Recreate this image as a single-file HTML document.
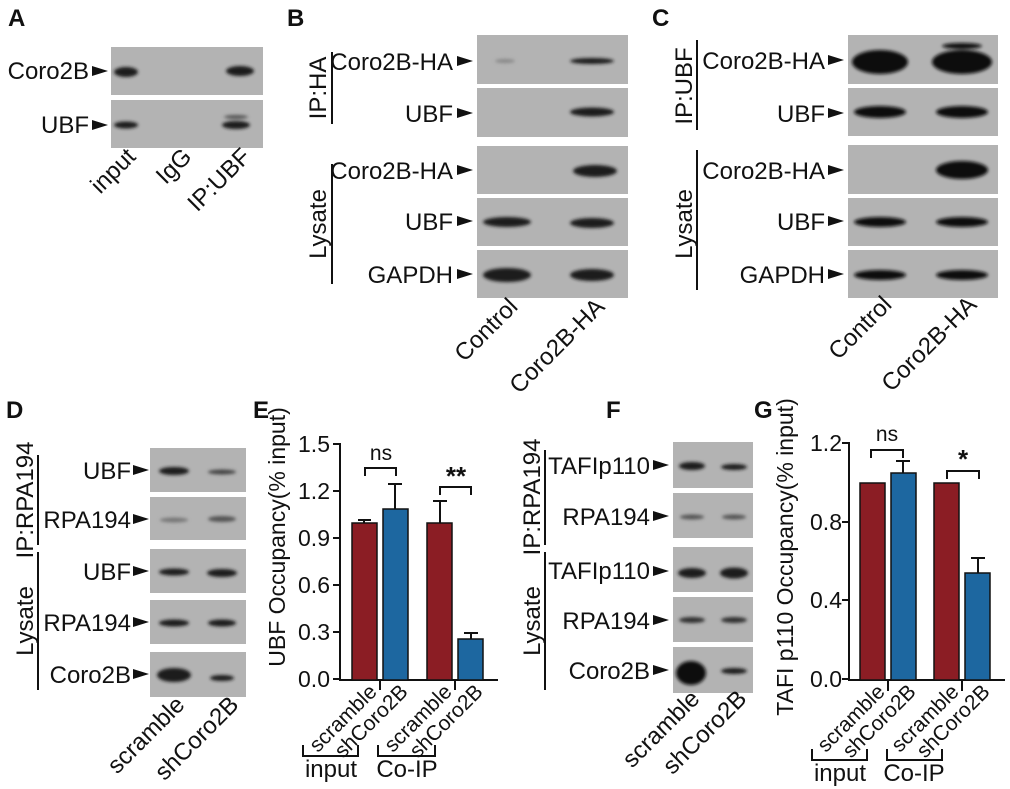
<!DOCTYPE html>
<html><head><meta charset="utf-8"><style>
html,body{margin:0;padding:0;background:#fff}
svg{display:block}
text{font-family:"Liberation Sans",Arial,sans-serif;fill:#111}
</style></head><body>
<svg width="1010" height="789" viewBox="0 0 1010 789" xmlns="http://www.w3.org/2000/svg">
<defs>
<filter id="b" x="-30%" y="-100%" width="160%" height="300%"><feGaussianBlur stdDeviation="1.6"/></filter>
<symbol id="ar" viewBox="0 0 16 10" overflow="visible"><polygon points="0,0 16,5 0,10" fill="#111"/></symbol>
</defs>
<g font-size="24">
<!-- Panel letters -->
<text x="8" y="26" font-size="24" font-weight="bold">A</text>
<text x="287" y="26" font-size="24" font-weight="bold">B</text>
<text x="652" y="26" font-size="24" font-weight="bold">C</text>
<text x="6" y="418" font-size="24" font-weight="bold">D</text>
<text x="253" y="418" font-size="24" font-weight="bold">E</text>
<text x="606" y="418" font-size="24" font-weight="bold">F</text>
<text x="754" y="418" font-size="24" font-weight="bold">G</text>

<!-- ===== A ===== -->
<rect x="111" y="47" width="152" height="48" fill="#b3b3b3"/>
<rect x="111" y="100" width="152" height="48" fill="#b3b3b3"/>
<g filter="url(#b)" fill="#1a1a1a">
<ellipse cx="126" cy="72" rx="12" ry="5"/>
<ellipse cx="240" cy="71" rx="14" ry="5"/>
<ellipse cx="126" cy="125" rx="12" ry="3.5"/>
<ellipse cx="236" cy="125" rx="14" ry="4"/>
<ellipse cx="236" cy="117" rx="12" ry="2" fill="#555"/>
</g>
<text x="89" y="79" text-anchor="end">Coro2B</text>
<use href="#ar" x="92" y="66" width="16" height="10"/>
<text x="89" y="133" text-anchor="end">UBF</text>
<use href="#ar" x="92" y="120" width="16" height="10"/>
<text transform="translate(137,158) rotate(-45)" text-anchor="end">input</text>
<text transform="translate(193,158) rotate(-45)" text-anchor="end">IgG</text>
<text transform="translate(252,158) rotate(-45)" text-anchor="end">IP:UBF</text>

<!-- ===== B ===== -->
<g fill="#b3b3b3">
<rect x="477" y="35" width="151" height="49"/>
<rect x="477" y="88" width="151" height="49"/>
<rect x="477" y="146" width="151" height="48"/>
<rect x="477" y="198" width="151" height="48"/>
<rect x="477" y="250" width="151" height="48"/>
</g>
<g filter="url(#b)" fill="#1a1a1a">
<ellipse cx="505" cy="61" rx="10" ry="2" fill="#888"/>
<ellipse cx="592" cy="61" rx="22" ry="3"/>
<ellipse cx="592" cy="112" rx="22" ry="4.5"/>
<ellipse cx="595" cy="171" rx="22" ry="6"/>
<ellipse cx="507" cy="222" rx="24" ry="5"/>
<ellipse cx="592" cy="223" rx="22" ry="5"/>
<ellipse cx="507" cy="275" rx="24" ry="7"/>
<ellipse cx="592" cy="275" rx="22" ry="6"/>
</g>
<line x1="332" y1="52" x2="332" y2="124" stroke="#111" stroke-width="2"/>
<line x1="332" y1="164" x2="332" y2="284" stroke="#111" stroke-width="2"/>
<text transform="translate(326,88) rotate(-90)" text-anchor="middle">IP:HA</text>
<text transform="translate(326,224) rotate(-90)" text-anchor="middle">Lysate</text>
<text x="453" y="70" text-anchor="end">Coro2B-HA</text><use href="#ar" x="457" y="56" width="16" height="10"/>
<text x="453" y="122" text-anchor="end">UBF</text><use href="#ar" x="457" y="108" width="16" height="10"/>
<text x="453" y="179" text-anchor="end">Coro2B-HA</text><use href="#ar" x="457" y="165" width="16" height="10"/>
<text x="453" y="230" text-anchor="end">UBF</text><use href="#ar" x="457" y="216" width="16" height="10"/>
<text x="453" y="283" text-anchor="end">GAPDH</text><use href="#ar" x="457" y="269" width="16" height="10"/>
<text transform="translate(519,308) rotate(-45)" text-anchor="end">Control</text>
<text transform="translate(606,308) rotate(-45)" text-anchor="end">Coro2B-HA</text>

<!-- ===== C ===== -->
<g fill="#b3b3b3">
<rect x="848" y="35" width="150" height="49"/>
<rect x="848" y="88" width="150" height="48"/>
<rect x="848" y="145" width="150" height="49"/>
<rect x="848" y="198" width="150" height="48"/>
<rect x="848" y="250" width="150" height="48"/>
</g>
<g filter="url(#b)" fill="#111">
<ellipse cx="880" cy="62" rx="28" ry="12"/>
<ellipse cx="962" cy="62" rx="30" ry="12"/>
<ellipse cx="962" cy="46" rx="20" ry="3"/>
<ellipse cx="880" cy="112" rx="26" ry="6"/>
<ellipse cx="962" cy="112" rx="26" ry="6"/>
<ellipse cx="962" cy="170" rx="26" ry="9"/>
<ellipse cx="880" cy="222" rx="26" ry="5"/>
<ellipse cx="962" cy="222" rx="26" ry="5"/>
<ellipse cx="880" cy="275" rx="26" ry="5"/>
<ellipse cx="962" cy="275" rx="26" ry="5"/>
</g>
<line x1="697" y1="40" x2="697" y2="130" stroke="#111" stroke-width="2"/>
<line x1="697" y1="150" x2="697" y2="290" stroke="#111" stroke-width="2"/>
<text transform="translate(692,86) rotate(-90)" text-anchor="middle">IP:UBF</text>
<text transform="translate(692,224) rotate(-90)" text-anchor="middle">Lysate</text>
<text x="825" y="69" text-anchor="end">Coro2B-HA</text><use href="#ar" x="828" y="55" width="16" height="10"/>
<text x="825" y="122" text-anchor="end">UBF</text><use href="#ar" x="828" y="108" width="16" height="10"/>
<text x="825" y="179" text-anchor="end">Coro2B-HA</text><use href="#ar" x="828" y="165" width="16" height="10"/>
<text x="825" y="230" text-anchor="end">UBF</text><use href="#ar" x="828" y="216" width="16" height="10"/>
<text x="825" y="283" text-anchor="end">GAPDH</text><use href="#ar" x="828" y="269" width="16" height="10"/>
<text transform="translate(893,306) rotate(-45)" text-anchor="end">Control</text>
<text transform="translate(978,306) rotate(-45)" text-anchor="end">Coro2B-HA</text>

<!-- ===== D ===== -->
<g fill="#b3b3b3">
<rect x="150" y="448" width="96" height="44"/>
<rect x="150" y="497" width="96" height="43"/>
<rect x="150" y="549" width="96" height="44"/>
<rect x="150" y="600" width="96" height="44"/>
<rect x="150" y="652" width="96" height="45"/>
</g>
<g filter="url(#b)" fill="#1a1a1a">
<ellipse cx="174" cy="471" rx="15" ry="4"/>
<ellipse cx="222" cy="472" rx="14" ry="2.5" fill="#444"/>
<ellipse cx="174" cy="520" rx="14" ry="2.5" fill="#777"/>
<ellipse cx="222" cy="519" rx="14" ry="3" fill="#555"/>
<ellipse cx="174" cy="572" rx="15" ry="3.5"/>
<ellipse cx="222" cy="573" rx="15" ry="4"/>
<ellipse cx="174" cy="623" rx="15" ry="3.5"/>
<ellipse cx="222" cy="623" rx="14" ry="3.5"/>
<ellipse cx="174" cy="675" rx="17" ry="7"/>
<ellipse cx="222" cy="678" rx="12" ry="3"/>
</g>
<line x1="38" y1="455" x2="38" y2="545" stroke="#111" stroke-width="2"/>
<line x1="38" y1="552" x2="38" y2="690" stroke="#111" stroke-width="2"/>
<text transform="translate(33,500) rotate(-90)" text-anchor="middle">IP:RPA194</text>
<text transform="translate(33,621) rotate(-90)" text-anchor="middle">Lysate</text>
<text x="131" y="479" text-anchor="end">UBF</text><use href="#ar" x="133" y="465" width="16" height="10"/>
<text x="131" y="528" text-anchor="end">RPA194</text><use href="#ar" x="133" y="514" width="16" height="10"/>
<text x="131" y="580" text-anchor="end">UBF</text><use href="#ar" x="133" y="566" width="16" height="10"/>
<text x="131" y="631" text-anchor="end">RPA194</text><use href="#ar" x="133" y="617" width="16" height="10"/>
<text x="131" y="683" text-anchor="end">Coro2B</text><use href="#ar" x="133" y="669" width="16" height="10"/>
<text transform="translate(186,706) rotate(-45)" text-anchor="end">scramble</text>
<text transform="translate(240,706) rotate(-45)" text-anchor="end">shCoro2B</text>

<!-- ===== E ===== -->
<text transform="translate(285,537) rotate(-90)" text-anchor="middle" font-size="23">UBF Occupancy(% input)</text>
<g font-size="23" text-anchor="end">
<text x="330" y="687">0.0</text>
<text x="330" y="640">0.3</text>
<text x="330" y="593">0.6</text>
<text x="330" y="546">0.9</text>
<text x="330" y="499">1.2</text>
<text x="330" y="452">1.5</text>
</g>
<g stroke="#111" stroke-width="2" fill="none">
<line x1="340" y1="443" x2="340" y2="680"/>
<line x1="339" y1="680" x2="498" y2="680"/>
<line x1="333" y1="444" x2="340" y2="444"/><line x1="333" y1="491" x2="340" y2="491"/><line x1="333" y1="538" x2="340" y2="538"/>
<line x1="333" y1="585" x2="340" y2="585"/><line x1="333" y1="632" x2="340" y2="632"/><line x1="333" y1="679" x2="340" y2="679"/>
<line x1="380" y1="680" x2="380" y2="690"/><line x1="455" y1="680" x2="455" y2="690"/>
</g>
<g stroke="#111" stroke-width="1.5">
<rect x="352" y="523" width="25" height="157" fill="#8b1d24"/>
<rect x="383" y="509" width="25" height="171" fill="#1d67a0"/>
<rect x="427" y="523" width="25" height="157" fill="#8b1d24"/>
<rect x="458" y="639" width="25" height="41" fill="#1d67a0"/>
</g>
<g stroke="#111" stroke-width="2" fill="none">
<line x1="364" y1="523" x2="364" y2="520"/><line x1="358" y1="520" x2="371" y2="520"/>
<line x1="395" y1="509" x2="395" y2="484"/><line x1="388" y1="484" x2="402" y2="484"/>
<line x1="440" y1="523" x2="440" y2="501"/><line x1="433" y1="501" x2="447" y2="501"/>
<line x1="471" y1="639" x2="471" y2="633"/><line x1="464" y1="633" x2="478" y2="633"/>
<polyline points="365,476 365,468 396,468 396,476"/>
<polyline points="440,495 440,487 471,487 471,495"/>
<polyline points="303,745 303,756 358,756 358,745"/>
<polyline points="378,745 378,756 435,756 435,745"/>
</g>
<text x="381" y="460" text-anchor="middle" font-size="21">ns</text>
<text x="456" y="485" text-anchor="middle" font-size="26" font-weight="bold">**</text>
<g font-size="21" text-anchor="end">
<text transform="translate(378,693) rotate(-45)">scramble</text>
<text transform="translate(409,693) rotate(-45)">shCoro2B</text>
<text transform="translate(453,693) rotate(-45)">scramble</text>
<text transform="translate(484,693) rotate(-45)">shCoro2B</text>
</g>
<text x="331" y="777" text-anchor="middle">input</text>
<text x="407" y="777" text-anchor="middle">Co-IP</text>

<!-- ===== F ===== -->
<g fill="#b3b3b3">
<rect x="673" y="442" width="80" height="46"/>
<rect x="673" y="493" width="80" height="45"/>
<rect x="673" y="547" width="80" height="45"/>
<rect x="673" y="597" width="80" height="45"/>
<rect x="673" y="647" width="80" height="46"/>
</g>
<g filter="url(#b)" fill="#1a1a1a">
<ellipse cx="692" cy="466" rx="13" ry="4"/>
<ellipse cx="734" cy="467" rx="13" ry="3"/>
<ellipse cx="692" cy="517" rx="12" ry="2.5" fill="#555"/>
<ellipse cx="734" cy="517" rx="12" ry="2.5" fill="#555"/>
<ellipse cx="692" cy="573" rx="14" ry="5"/>
<ellipse cx="734" cy="573" rx="14" ry="5.5"/>
<ellipse cx="692" cy="620" rx="13" ry="3" fill="#333"/>
<ellipse cx="734" cy="620" rx="13" ry="3" fill="#333"/>
<ellipse cx="691" cy="673" rx="15" ry="12" fill="#111"/>
<ellipse cx="734" cy="671" rx="13" ry="3"/>
</g>
<line x1="545" y1="450" x2="545" y2="545" stroke="#111" stroke-width="2"/>
<line x1="545" y1="552" x2="545" y2="690" stroke="#111" stroke-width="2"/>
<text transform="translate(540,497) rotate(-90)" text-anchor="middle">IP:RPA194</text>
<text transform="translate(540,621) rotate(-90)" text-anchor="middle">Lysate</text>
<text x="650" y="474" text-anchor="end">TAFIp110</text><use href="#ar" x="653" y="460" width="16" height="10"/>
<text x="650" y="525" text-anchor="end">RPA194</text><use href="#ar" x="653" y="511" width="16" height="10"/>
<text x="650" y="579" text-anchor="end">TAFIp110</text><use href="#ar" x="653" y="566" width="16" height="10"/>
<text x="650" y="629" text-anchor="end">RPA194</text><use href="#ar" x="653" y="615" width="16" height="10"/>
<text x="650" y="679" text-anchor="end">Coro2B</text><use href="#ar" x="653" y="665" width="16" height="10"/>
<text transform="translate(701,700) rotate(-45)" text-anchor="end">scramble</text>
<text transform="translate(748,700) rotate(-45)" text-anchor="end">shCoro2B</text>

<!-- ===== G ===== -->
<text transform="translate(793,557) rotate(-90)" text-anchor="middle" font-size="23">TAFI p110 Occupancy(% input)</text>
<g font-size="23" text-anchor="end">
<text x="842" y="687">0.0</text>
<text x="842" y="608">0.4</text>
<text x="842" y="530">0.8</text>
<text x="842" y="451">1.2</text>
</g>
<g stroke="#111" stroke-width="2" fill="none">
<line x1="849" y1="442" x2="849" y2="680"/>
<line x1="848" y1="680" x2="1005" y2="680"/>
<line x1="842" y1="443" x2="849" y2="443"/><line x1="842" y1="522" x2="849" y2="522"/>
<line x1="842" y1="600" x2="849" y2="600"/><line x1="842" y1="679" x2="849" y2="679"/>
<line x1="888" y1="680" x2="888" y2="691"/><line x1="962" y1="680" x2="962" y2="691"/>
</g>
<g stroke="#111" stroke-width="1.5">
<rect x="860" y="483" width="25" height="197" fill="#8b1d24"/>
<rect x="891" y="473" width="25" height="207" fill="#1d67a0"/>
<rect x="934" y="483" width="25" height="197" fill="#8b1d24"/>
<rect x="965" y="573" width="25" height="107" fill="#1d67a0"/>
</g>
<g stroke="#111" stroke-width="2" fill="none">
<line x1="903" y1="473" x2="903" y2="461"/><line x1="896" y1="461" x2="910" y2="461"/>
<line x1="978" y1="573" x2="978" y2="558"/><line x1="971" y1="558" x2="985" y2="558"/>
<polyline points="871,458 871,450 903,450 903,458"/>
<polyline points="947,479 947,471 979,471 979,479"/>
<polyline points="812,749 812,760 867,760 867,749"/>
<polyline points="887,749 887,760 942,760 942,749"/>
</g>
<text x="887" y="441" text-anchor="middle" font-size="21">ns</text>
<text x="963" y="468" text-anchor="middle" font-size="26" font-weight="bold">*</text>
<g font-size="21" text-anchor="end">
<text transform="translate(886,693) rotate(-45)">scramble</text>
<text transform="translate(917,693) rotate(-45)">shCoro2B</text>
<text transform="translate(960,693) rotate(-45)">scramble</text>
<text transform="translate(991,693) rotate(-45)">shCoro2B</text>
</g>
<text x="840" y="781" text-anchor="middle">input</text>
<text x="914" y="781" text-anchor="middle">Co-IP</text>
</g>
</svg>
</body></html>
